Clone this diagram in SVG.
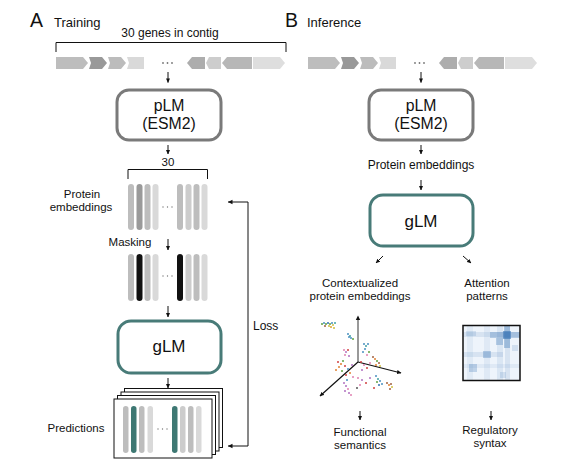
<svg xmlns="http://www.w3.org/2000/svg" width="569" height="466" viewBox="0 0 569 466">
<style>
text{font-family:"Liberation Sans",Arial,sans-serif;fill:#111}
.lbl{font-size:11.5px;text-anchor:middle}
.big{font-size:19.5px}
.ttl{font-size:13px}
.box{font-size:15.8px;text-anchor:middle}
.con{fill:none;stroke:#111;stroke-width:1}
.arr{fill:none;stroke:#111;stroke-width:1;marker-end:url(#ah)}
.plm{fill:#fff;stroke:#7a7a7a;stroke-width:3}
.glm{fill:#fff;stroke:#487b78;stroke-width:3}
.card{fill:#fff;stroke:#111;stroke-width:1}
.g1{fill:#bdbdbd}.g2{fill:#9a9a9a}.g3{fill:#d9d9d9}.g4{fill:#cccccc}.bk{fill:#111}.tl{fill:#3e7873}
.dot{fill:#777}
</style>
<defs>
<marker id="ah" viewBox="0 0 10 10" refX="9" refY="5" markerWidth="4.5" markerHeight="4.5" markerUnits="userSpaceOnUse" orient="auto"><path d="M0,0.5 L10,5 L0,9.5 z" fill="#111"/></marker>
<g id="genes">
<polygon points="56,57 83,57 88,63 83,69 56,69" fill="#bdbdbd"/>
<polygon points="89,57 102,57 107,63 102,69 89,69 91,63" fill="#999"/>
<polygon points="108,57 121,57 126,63 121,69 108,69 110,63" fill="#bcbcbc"/>
<polygon points="127,57 144,57 144,69 127,69 129,63" fill="#d9d9d9"/>
<circle cx="163" cy="63" r="0.9" fill="#777"/><circle cx="167.5" cy="63" r="0.9" fill="#777"/><circle cx="172" cy="63" r="0.9" fill="#777"/>
<polygon points="187,63 192,57 205,57 205,69 192,69" fill="#adadad"/>
<polygon points="206,63 209,57 221,57 221,69 209,69" fill="#cdcdcd"/>
<polygon points="222,63 227,57 252,57 252,69 227,69" fill="#b7b7b7"/>
<polygon points="253,57 280,57 285,63 280,69 253,69" fill="#dedede"/>
</g>
</defs>

<g id="titles">
<text x="30" y="27" class="big">A</text>
<text x="54" y="27" class="ttl">Training</text>
<text x="285" y="27" class="big">B</text>
<text x="307" y="27" class="ttl">Inference</text>
</g>

<g id="contigA">
<text x="170" y="37" class="lbl" style="font-size:12px">30 genes in contig</text>
<use href="#genes"/>
</g>

<g id="plmA">
<rect x="117" y="90" width="104" height="50" rx="12" class="plm"/>
<text x="169" y="110.5" class="box">pLM</text>
<text x="169" y="128.5" class="box">(ESM2)</text>
</g>

<g id="embA">
<text x="168" y="166" class="lbl">30</text>
<text x="82" y="198" class="lbl">Protein</text>
<text x="81" y="211" class="lbl">embeddings</text>
<rect x="128" y="184" width="6" height="46" rx="3" class="g1"/>
<rect x="136.5" y="184" width="6" height="46" rx="3" class="g2"/>
<rect x="144.5" y="184" width="6" height="46" rx="3" class="g1"/>
<rect x="152.5" y="184" width="6" height="46" rx="3" class="g3"/>
<circle cx="163" cy="207" r="0.7" class="dot"/><circle cx="167.5" cy="207" r="0.7" class="dot"/><circle cx="172" cy="207" r="0.7" class="dot"/>
<rect x="177" y="184" width="6" height="46" rx="3" class="g1"/>
<rect x="185.5" y="184" width="6" height="46" rx="3" class="g4"/>
<rect x="193.5" y="184" width="6" height="46" rx="3" class="g1"/>
<rect x="201.5" y="184" width="6" height="46" rx="3" class="g3"/>
</g>

<g id="maskA">
<text x="130" y="246" class="lbl">Masking</text>
<rect x="128" y="254" width="6" height="47" rx="3" class="g1"/>
<rect x="136.5" y="254" width="6" height="47" rx="3" class="bk"/>
<rect x="144.5" y="254" width="6" height="47" rx="3" class="g1"/>
<rect x="152.5" y="254" width="6" height="47" rx="3" class="g3"/>
<circle cx="163" cy="276" r="0.7" class="dot"/><circle cx="167.5" cy="276" r="0.7" class="dot"/><circle cx="172" cy="276" r="0.7" class="dot"/>
<rect x="177" y="254" width="6" height="47" rx="3" class="bk"/>
<rect x="185.5" y="254" width="6" height="47" rx="3" class="g4"/>
<rect x="193.5" y="254" width="6" height="47" rx="3" class="g1"/>
<rect x="201.5" y="254" width="6" height="47" rx="3" class="g3"/>
</g>

<g id="glmA">
<rect x="118" y="321" width="103" height="52" rx="13" class="glm"/>
<text x="169" y="352" class="box" style="font-size:17px">gLM</text>
</g>

<g id="predA">
<text x="76" y="432" class="lbl">Predictions</text>
<rect x="124.5" y="388.5" width="98" height="59" class="card"/>
<rect x="121" y="392" width="98" height="59" class="card"/>
<rect x="117.5" y="395.5" width="98" height="59" class="card"/>
<rect x="114" y="399" width="98" height="59" class="card"/>
<rect x="123" y="406" width="5.5" height="47" rx="2.75" class="g1"/>
<rect x="131" y="406" width="5.5" height="47" rx="2.75" class="tl"/>
<rect x="139" y="406" width="5.5" height="47" rx="2.75" class="g1"/>
<rect x="147.5" y="406" width="5.5" height="47" rx="2.75" class="g3"/>
<circle cx="158" cy="429" r="0.7" class="dot"/><circle cx="162.5" cy="429" r="0.7" class="dot"/><circle cx="167" cy="429" r="0.7" class="dot"/>
<rect x="172" y="406" width="5.5" height="47" rx="2.75" class="tl"/>
<rect x="180" y="406" width="5.5" height="47" rx="2.75" class="g4"/>
<rect x="188" y="406" width="5.5" height="47" rx="2.75" class="g1"/>
<rect x="196" y="406" width="5.5" height="47" rx="2.75" class="g3"/>
</g>

<g id="contigB">
<use href="#genes" x="252"/>
</g>

<g id="plmB">
<rect x="369" y="90" width="104" height="50" rx="12" class="plm"/>
<text x="421" y="110.5" class="box">pLM</text>
<text x="421" y="128.5" class="box">(ESM2)</text>
</g>

<g id="embB">
<text x="421" y="169" class="lbl" style="font-size:12px">Protein embeddings</text>
</g>

<g id="glmB">
<rect x="370" y="195" width="103" height="51" rx="13" class="glm"/>
<text x="421" y="227" class="box" style="font-size:17px">gLM</text>
</g>

<g id="ctxB">
<text x="360" y="287" class="lbl">Contextualized</text>
<text x="360" y="300" class="lbl">protein embeddings</text>
<line x1="358" y1="362" x2="358" y2="318" stroke="#999" stroke-width="2"/>
<path d="M355.8,320 L358,315.5 L360.2,320 z" fill="#111"/>
<line x1="358" y1="362" x2="401" y2="373" stroke="#111" stroke-width="1.2" marker-end="url(#ah)"/>
<line x1="358" y1="362" x2="320" y2="396" stroke="#111" stroke-width="1.2" marker-end="url(#ah)"/>
<g id="scatter">
<circle cx="322" cy="324" r="1" fill="#60a040"/><circle cx="324" cy="323" r="1" fill="#4a90c0"/><circle cx="326" cy="324" r="1" fill="#60a040"/><circle cx="328" cy="323" r="1" fill="#3070b0"/><circle cx="330" cy="324" r="1" fill="#60a040"/><circle cx="332" cy="323" r="1" fill="#4a90c0"/><circle cx="333" cy="325" r="1" fill="#d0c040"/><circle cx="329" cy="326" r="1" fill="#d0c040"/><circle cx="331" cy="327" r="1" fill="#e0a030"/><circle cx="334" cy="328" r="1" fill="#d0c040"/><circle cx="325" cy="326" r="1" fill="#a06040"/><circle cx="335" cy="323" r="1" fill="#40a0a0"/>
<circle cx="348" cy="334" r="1" fill="#4a90c0"/><circle cx="350" cy="336" r="1" fill="#40a0a0"/><circle cx="351" cy="338" r="1" fill="#4a90c0"/><circle cx="353" cy="339" r="1" fill="#60a040"/><circle cx="349" cy="337" r="1" fill="#4a90c0"/>
<circle cx="364" cy="344" r="1" fill="#4a90c0"/><circle cx="366" cy="346" r="1" fill="#40a0a0"/><circle cx="368" cy="344" r="1" fill="#4a90c0"/><circle cx="365" cy="349" r="1" fill="#4a90c0"/><circle cx="369" cy="352" r="1" fill="#60a040"/><circle cx="363" cy="352" r="1" fill="#4a90c0"/><circle cx="367" cy="355" r="1" fill="#e080b0"/>
<circle cx="344" cy="350" r="1" fill="#e080b0"/><circle cx="346" cy="352" r="1" fill="#b070c0"/><circle cx="348" cy="350" r="1" fill="#d04040"/><circle cx="345" cy="355" r="1" fill="#e080b0"/><circle cx="349" cy="356" r="1" fill="#b070c0"/>
<circle cx="373" cy="357" r="1" fill="#a06040"/><circle cx="375" cy="359" r="1" fill="#e08030"/><circle cx="377" cy="361" r="1" fill="#60a040"/><circle cx="379" cy="363" r="1" fill="#a06040"/><circle cx="376" cy="365" r="1" fill="#e08030"/><circle cx="380" cy="366" r="1" fill="#d0c040"/>
<circle cx="338" cy="362" r="1" fill="#d04040"/><circle cx="341" cy="364" r="1" fill="#e08030"/><circle cx="343" cy="361" r="1" fill="#60a040"/><circle cx="339" cy="367" r="1" fill="#e08030"/><circle cx="345" cy="366" r="1" fill="#d04040"/><circle cx="348" cy="369" r="1" fill="#4a90c0"/><circle cx="342" cy="371" r="1" fill="#60a040"/><circle cx="350" cy="373" r="1" fill="#e08030"/><circle cx="346" cy="375" r="1" fill="#d04040"/><circle cx="352" cy="365" r="1" fill="#b070c0"/><circle cx="336" cy="370" r="1" fill="#e08030"/><circle cx="353" cy="377" r="1" fill="#e080b0"/>
<circle cx="361" cy="362" r="1" fill="#d04040"/><circle cx="364" cy="365" r="1" fill="#e080b0"/><circle cx="367" cy="368" r="1" fill="#d04040"/><circle cx="362" cy="370" r="1" fill="#b070c0"/><circle cx="370" cy="363" r="1" fill="#e080b0"/>
<circle cx="376" cy="376" r="1" fill="#4a90c0"/><circle cx="378" cy="379" r="1" fill="#40a0a0"/><circle cx="380" cy="381" r="1" fill="#4a90c0"/><circle cx="382" cy="384" r="1" fill="#4a90c0"/><circle cx="379" cy="385" r="1" fill="#3070b0"/><circle cx="377" cy="382" r="1" fill="#60a040"/>
<circle cx="387" cy="383" r="1" fill="#a06040"/><circle cx="389" cy="385" r="1" fill="#e08030"/><circle cx="391" cy="384" r="1" fill="#a06040"/><circle cx="392" cy="387" r="1" fill="#d0c040"/><circle cx="390" cy="389" r="1" fill="#a06040"/>
<circle cx="344" cy="383" r="1" fill="#b070c0"/><circle cx="346" cy="386" r="1" fill="#b070c0"/><circle cx="348" cy="389" r="1" fill="#e080b0"/><circle cx="345" cy="391" r="1" fill="#b070c0"/><circle cx="349" cy="393" r="1" fill="#b070c0"/><circle cx="351" cy="395" r="1" fill="#e080b0"/><circle cx="347" cy="380" r="1" fill="#4a90c0"/>
<circle cx="358" cy="378" r="1" fill="#e080b0"/><circle cx="362" cy="380" r="1" fill="#b070c0"/><circle cx="366" cy="383" r="1" fill="#d04040"/><circle cx="360" cy="385" r="1" fill="#e080b0"/><circle cx="370" cy="378" r="1" fill="#b070c0"/><circle cx="374" cy="388" r="1" fill="#d04040"/><circle cx="357" cy="388" r="1" fill="#555"/>
</g>
</g>

<g id="attB">
<text x="487" y="287" class="lbl">Attention</text>
<text x="487" y="300" class="lbl">patterns</text>
<rect x="463" y="325.5" width="57" height="55" fill="#eef4fb"/>
<g fill="#2f6db0">
<rect x="463" y="332" width="57" height="5" opacity="0.12"/>
<rect x="463" y="352" width="40" height="5" opacity="0.12"/>
<rect x="463" y="364" width="57" height="4" opacity="0.08"/>
<rect x="467" y="325.5" width="6" height="55" opacity="0.07"/>
<rect x="484" y="325.5" width="6" height="55" opacity="0.08"/>
<rect x="497" y="325.5" width="6" height="55" opacity="0.1"/>
<rect x="505" y="325.5" width="5" height="55" opacity="0.12"/>
<rect x="490" y="332" width="30" height="6" opacity="0.3"/>
<rect x="504" y="326" width="6" height="22" opacity="0.35"/>
<rect x="503" y="331" width="8" height="8" opacity="0.55"/>
<rect x="496" y="338" width="7" height="7" opacity="0.3"/>
<rect x="483" y="351" width="8" height="7" opacity="0.3"/>
<rect x="469" y="364" width="8" height="8" opacity="0.25"/>
<rect x="466" y="331" width="10" height="5" opacity="0.15"/>
<rect x="512" y="345" width="6" height="6" opacity="0.15"/>
<rect x="500" y="372" width="6" height="6" opacity="0.15"/>
</g>
<rect x="463" y="325.5" width="57" height="55" fill="none" stroke="#111" stroke-width="1.5"/>
</g>

<g id="funcB">
<text x="360" y="436" class="lbl">Functional</text>
<text x="360" y="449" class="lbl">semantics</text>
</g>
<g id="regB">
<text x="490" y="434" class="lbl">Regulatory</text>
<text x="490" y="447" class="lbl">syntax</text>
</g>

<g id="connectors">
<path d="M56,52 V42.5 H286 V52" class="con"/>
<path d="M128,179 V169.5 H207.5 V179" class="con"/>
<line x1="168" y1="72" x2="168" y2="82.5" class="arr"/>
<line x1="168" y1="145" x2="168" y2="154" class="arr"/>
<line x1="168" y1="239" x2="168" y2="250" class="arr"/>
<line x1="168" y1="306" x2="168" y2="317" class="arr"/>
<line x1="168" y1="378" x2="168" y2="388" class="arr"/>
<path d="M228,446 H248 V202 H228" class="con"/>
<path d="M232.5,199.8 L228,202 L232.5,204.2 z" fill="#111"/>
<path d="M232.5,443.8 L228,446 L232.5,448.2 z" fill="#111"/>
<text x="253" y="330" style="font-size:12px">Loss</text>
<line x1="421" y1="72" x2="421" y2="82.5" class="arr"/>
<line x1="421" y1="145" x2="421" y2="154" class="arr"/>
<line x1="421" y1="180" x2="421" y2="190" class="arr"/>
<line x1="383" y1="256" x2="376" y2="263" class="arr"/>
<line x1="463" y1="256" x2="471" y2="263" class="arr"/>
<line x1="360" y1="411" x2="360" y2="420" class="arr"/>
<line x1="491" y1="411" x2="491" y2="420" class="arr"/>
</g>
</svg>
